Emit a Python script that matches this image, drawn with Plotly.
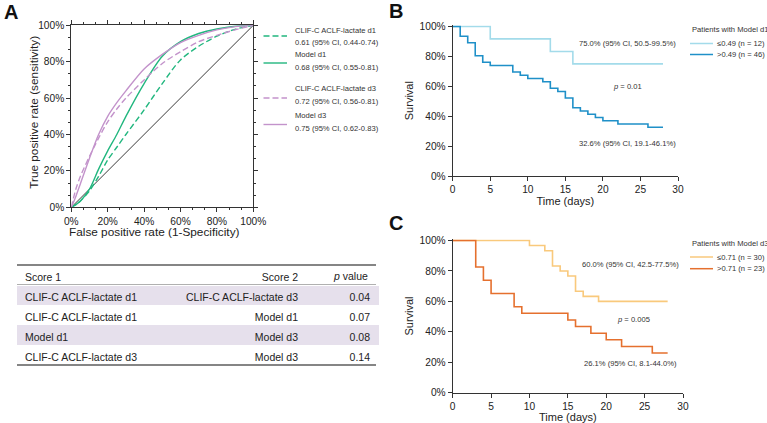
import plotly.graph_objects as go

W, H = 767, 423
FONT = "Liberation Sans, Arial, Helvetica, sans-serif"

# ---------------- Panel A: ROC data (values in %) ----------------
roc_fpr = [0, 2.5, 5, 10, 15, 20, 25, 30, 40, 50, 60, 70, 80, 90, 100]
tpr_clif_d1 = [0, 1.5, 3.5, 9, 17, 26, 33, 40, 53.5, 68, 81, 88.5, 94, 97.8, 100]
tpr_model_d1 = [0, 1.5, 3.5, 10, 21, 31, 40, 50, 68, 83, 91, 95.5, 98, 99.5, 100]
tpr_clif_d3 = [0, 10, 17, 28, 38, 47, 54, 60, 70, 79, 85.5, 91, 94.5, 97.5, 100]
tpr_model_d3 = [0, 6, 13, 27, 40, 50, 57.5, 64, 76, 84, 90.5, 94.5, 97.5, 99.3, 100]
diag = [0, 100]

roc_names = ["CLIF-C ACLF-lactate d1", "Model d1", "CLIF-C ACLF-lactate d3", "Model d3"]
roc_auc = ["0.61 (95% CI, 0.44-0.74)", "0.68 (95% CI, 0.55-0.81)",
           "0.72 (95% CI, 0.56-0.81)", "0.75 (95% CI, 0.62-0.83)"]
roc_tpr = [tpr_clif_d1, tpr_model_d1, tpr_clif_d3, tpr_model_d3]
roc_xtitle = "False positive rate (1-Specificity)"
roc_ytitle = "True positive rate (sensitivity)"

# ---------------- Table ----------------
tab_header = ["Score 1", "Score 2", "<i>p</i> value"]
tab_score1 = ["CLIF-C ACLF-lactate d1", "CLIF-C ACLF-lactate d1", "Model d1", "CLIF-C ACLF-lactate d3"]
tab_score2 = ["CLIF-C ACLF-lactate d3", "Model d1", "Model d3", "Model d3"]
tab_p = ["0.04", "0.07", "0.08", "0.14"]

# ---------------- Panel B: KM, Model d1 ----------------
b_low_t = [0, 5, 13, 16, 28]
b_low_s = [100, 91.7, 83.3, 75.0, 75.0]
b_high_t = [0, 1, 2, 3, 4, 5, 8, 9, 10, 12, 13, 14, 15, 16, 17, 18, 19, 20, 22, 26, 28]
b_high_s = [100, 93.5, 89.1, 80.4, 76.1, 73.9, 69.6, 67.4, 65.2, 63.0, 58.7, 56.5, 52.2,
            45.7, 43.5, 41.3, 39.1, 37.0, 34.8, 32.6, 32.6]
b_names = ["\u22640.49 (n = 12)", ">0.49 (n = 46)"]
b_title = "Patients with Model d1"
b_notes = ["75.0% (95% CI, 50.5-99.5%)", "<i>p</i> = 0.01", "32.6% (95% CI, 19.1-46.1%)"]

# ---------------- Panel C: KM, Model d3 ----------------
c_low_t = [0, 10, 12, 13, 14, 15, 16, 17, 19, 28]
c_low_s = [100, 96.7, 93.3, 83.3, 80.0, 76.7, 66.7, 63.3, 60.0, 60.0]
c_high_t = [0, 3, 4, 5, 8, 9, 15, 16, 18, 20, 22, 26, 28]
c_high_s = [100, 82.6, 73.9, 65.2, 56.5, 52.2, 47.8, 43.5, 39.1, 34.8, 30.4, 26.1, 26.1]
c_names = ["\u22640.71 (n = 30)", ">0.71 (n = 23)"]
c_title = "Patients with Model d3"
c_notes = ["60.0% (95% CI, 42.5-77.5%)", "<i>p</i> = 0.005", "26.1% (95% CI, 8.1-44.0%)"]

# ---------------- styling ----------------
GREEN = "#22b77f"
PURPLE = "#c393cb"
roc_colors = [GREEN, GREEN, PURPLE, PURPLE]
roc_dash = ["6px,3px", "solid", "6px,3px", "solid"]
B_LIGHT, B_DARK = "#a3dbea", "#1f90c8"
C_LIGHT, C_DARK = "#f9c97c", "#e5702e"
SHADE = "#e6e0ec"


def fx(px):
    return px / W


def fy(py):
    return 1 - py / H


fig = go.Figure()

# ROC traces
fig.add_trace(go.Scatter(x=diag, y=diag, mode="lines", line=dict(color="#3a3a3a", width=1),
                         showlegend=False, hoverinfo="skip", xaxis="x", yaxis="y"))
for name, tpr, col, dash in zip(roc_names, roc_tpr, roc_colors, roc_dash):
    fig.add_trace(go.Scatter(x=roc_fpr, y=tpr, mode="lines", name=name,
                             line=dict(color=col, width=1.4, dash=dash, shape="spline", smoothing=0.8),
                             showlegend=False, xaxis="x", yaxis="y"))

# KM traces
for t, s, col, nm in [(b_low_t, b_low_s, B_LIGHT, b_names[0]), (b_high_t, b_high_s, B_DARK, b_names[1])]:
    fig.add_trace(go.Scatter(x=t, y=s, mode="lines", name=nm, line=dict(color=col, width=1.6, shape="hv"),
                             showlegend=False, xaxis="x2", yaxis="y2"))
for t, s, col, nm in [(c_low_t, c_low_s, C_LIGHT, c_names[0]), (c_high_t, c_high_s, C_DARK, c_names[1])]:
    fig.add_trace(go.Scatter(x=t, y=s, mode="lines", name=nm, line=dict(color=col, width=1.6, shape="hv"),
                             showlegend=False, xaxis="x3", yaxis="y3"))

# Table
TAB_X0, TAB_X1 = 17, 378
n_rows = len(tab_score1)
row_fill = [SHADE if i % 2 == 0 else "white" for i in range(n_rows)]
fig.add_trace(go.Table(
    domain=dict(x=[fx(TAB_X0), fx(TAB_X1)], y=[fy(368), fy(265)]),
    columnwidth=[153, 136, 72],
    header=dict(values=[tab_header[0], tab_header[1], ""], align=["left", "right", "right"], height=20,
                fill=dict(color="white"), line=dict(color="white", width=1),
                font=dict(family=FONT, size=10.5, color="#222")),
    cells=dict(values=[tab_score1, tab_score2, tab_p], align=["left", "right", "right"], height=20,
               fill=dict(color=[row_fill] * 3), line=dict(color=[row_fill] * 3, width=1),
               font=dict(family=FONT, size=10.5, color="#222")),
))

axis_common = dict(showline=True, linecolor="#333", linewidth=1, ticks="outside", ticklen=4,
                   tickcolor="#333", tickwidth=1, showgrid=False, zeroline=False, automargin=False,
                   tickfont=dict(family=FONT, size=10.2, color="#222"))

layout = dict(
    width=W, height=H, margin=dict(l=0, r=0, t=0, b=0),
    paper_bgcolor="white", plot_bgcolor="white",
    font=dict(family=FONT, color="#222"),
    showlegend=False,
    xaxis=dict(domain=[fx(71.3), fx(253.3)], anchor="y", range=[0, 100], tick0=0, dtick=20,
               ticksuffix="%", mirror="ticks",
               minor=dict(dtick=20 / 3, ticklen=2, ticks="outside", tickcolor="#333"), **axis_common),
    yaxis=dict(domain=[fy(207.3), fy(25.3)], anchor="x", range=[0, 100], tick0=0, dtick=20,
               ticksuffix="%", mirror="ticks",
               minor=dict(dtick=20 / 3, ticklen=2, ticks="outside", tickcolor="#333"), **axis_common),
    xaxis2=dict(domain=[fx(452.7), fx(678)], anchor="y2", range=[0, 30], tick0=0, dtick=5,
                title=dict(text="Time (days)", standoff=1, font=dict(family=FONT, size=11, color="#222")),
                **axis_common),
    yaxis2=dict(domain=[fy(176), fy(25.3)], anchor="x2", range=[0, 100.8], tick0=0, dtick=20,
                ticksuffix="%",
                title=dict(text="Survival", standoff=3, font=dict(family=FONT, size=11, color="#222")),
                **axis_common),
    xaxis3=dict(domain=[fx(452.7), fx(683)], anchor="y3", range=[0, 30], tick0=0, dtick=5,
                title=dict(text="Time (days)", standoff=3, font=dict(family=FONT, size=11, color="#222")),
                **axis_common),
    yaxis3=dict(domain=[fy(392.7), fy(239.3)], anchor="x3", range=[0, 100.8], tick0=0, dtick=20,
                ticksuffix="%",
                title=dict(text="Survival", standoff=3, font=dict(family=FONT, size=11, color="#222")),
                **axis_common),
)
fig.update_layout(**layout)

ann = []
shapes = []
small = dict(family=FONT, size=7.6, color="#333")
title_font = dict(family=FONT, size=11.8, color="#222")

# ROC axis titles
ann.append(dict(text=roc_xtitle, x=fx(154.5), y=fy(232.3), xref="paper", yref="paper",
                xanchor="center", yanchor="middle", showarrow=False, font=title_font))
ann.append(dict(text=roc_ytitle, x=fx(33.3), y=fy(112.5), xref="paper", yref="paper", textangle=-90,
                xanchor="center", yanchor="middle", showarrow=False, font=title_font))

# panel letters
for letter, px, py in [("A", 2, 12), ("B", 386.5, 11), ("C", 386.5, 223)]:
    ann.append(dict(text="<b>%s</b>" % letter, x=fx(px), y=fy(py), xref="paper", yref="paper",
                    xanchor="left", yanchor="middle", showarrow=False,
                    font=dict(family=FONT, size=20, color="#111")))

# table header "p value" (italic p)
ann.append(dict(text=tab_header[2], x=fx(TAB_X1 - 8), y=fy(275.5), xref="paper", yref="paper",
                xanchor="right", yanchor="middle", showarrow=False,
                font=dict(family=FONT, size=10.5, color="#222")))

# ROC legend (manual)
roc_leg_rows = [(30.5, 42.5, 36), (55, 67, 63), (89, 101, 98), (116, 128, 124.5)]
for (ty1, ty2, ly), nm, auc, col, dash in zip(roc_leg_rows, roc_names, roc_auc, roc_colors, roc_dash):
    ann.append(dict(text=nm, x=fx(293), y=fy(ty1), xref="paper", yref="paper", xanchor="left",
                    yanchor="middle", showarrow=False, font=small))
    ann.append(dict(text=auc, x=fx(293), y=fy(ty2), xref="paper", yref="paper", xanchor="left",
                    yanchor="middle", showarrow=False, font=small))
    shapes.append(dict(type="line", xref="paper", yref="paper", x0=fx(263.5), x1=fx(287), y0=fy(ly), y1=fy(ly),
                       line=dict(color=col, width=1.4, dash=dash)))

# KM legends (manual)
for title, names, cols, tpos, rows in [
        (b_title, b_names, [B_LIGHT, B_DARK], 30, [43.5, 54.5]),
        (c_title, c_names, [C_LIGHT, C_DARK], 243.3, [257, 268.7])]:
    ann.append(dict(text=title, x=fx(690), y=fy(tpos), xref="paper", yref="paper", xanchor="left",
                    yanchor="middle", showarrow=False, font=small))
    for nm, col, ry in zip(names, cols, rows):
        ann.append(dict(text=nm, x=fx(715), y=fy(ry), xref="paper", yref="paper", xanchor="left",
                        yanchor="middle", showarrow=False, font=small))
        shapes.append(dict(type="line", xref="paper", yref="paper", x0=fx(690), x1=fx(713), y0=fy(ry), y1=fy(ry),
                           line=dict(color=col, width=1.5)))

# KM annotations (in data coordinates)
for txt, x, y in zip(b_notes, [23.3, 23.3, 23.3], [88.3, 59.7, 21.9]):
    ann.append(dict(text=txt, x=x, y=y, xref="x2", yref="y2", showarrow=False, font=small))
for txt, x, y in zip(c_notes, [23.1, 23.5, 23.1], [84.5, 48, 19.4]):
    ann.append(dict(text=txt, x=x, y=y, xref="x3", yref="y3", showarrow=False, font=small))

# table rules
for y, wdt, col in [(265, 2, "#858585"), (284.5, 1, "#b0b0b0"), (365, 2, "#858585")]:
    shapes.append(dict(type="line", xref="paper", yref="paper", x0=fx(TAB_X0), x1=fx(376), y0=fy(y), y1=fy(y),
                       line=dict(color=col, width=wdt)))

fig.update_layout(annotations=ann, shapes=shapes)
fig.write_html("out.html", config={"displayModeBar": False},
               post_script="document.body.style.margin='0';document.body.style.overflow='hidden';")
